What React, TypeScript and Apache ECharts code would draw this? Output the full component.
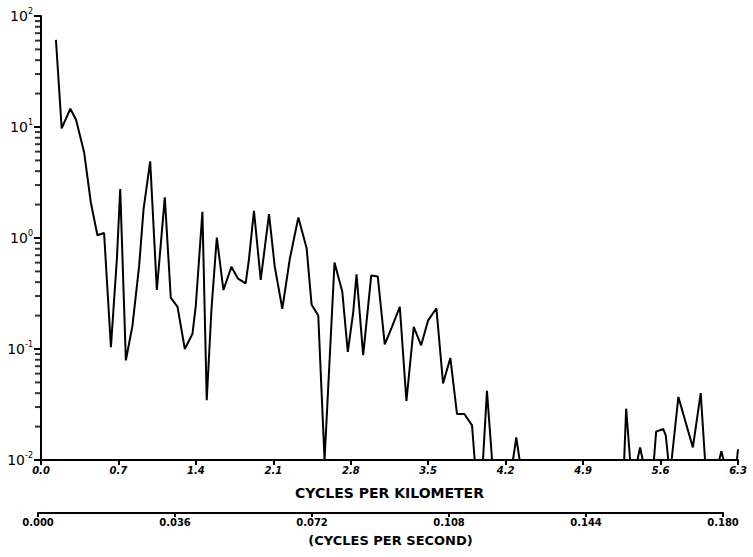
import React, { useEffect, useRef } from "react";
import * as echarts from "echarts";

// Spectrum samples: frequency (cycles per kilometer) and spectral power
const freqKm = [
  0.135, 0.187, 0.265, 0.316, 0.39, 0.45, 0.51, 0.57, 0.632, 0.686, 0.716, 0.767, 0.827, 0.887, 0.927,
  0.987, 1.047, 1.119, 1.173, 1.234, 1.3, 1.369, 1.399, 1.459, 1.498, 1.541, 1.589, 1.649, 1.721, 1.781,
  1.85, 1.88, 1.925, 1.986, 2.061, 2.112, 2.181, 2.249, 2.326, 2.401, 2.446, 2.506, 2.563, 2.653, 2.723,
  2.773, 2.822, 2.852, 2.912, 2.985, 3.044, 3.107, 3.174, 3.243, 3.303, 3.369, 3.436, 3.498, 3.574, 3.634,
  3.7, 3.76, 3.827, 3.896, 3.92, 3.995, 4.031, 4.077, 4.266, 4.296, 4.326, 5.271, 5.289, 5.325, 5.391,
  5.415, 5.439, 5.54, 5.56, 5.625, 5.647, 5.67, 5.7, 5.761, 5.892, 5.963, 6.002, 6.13, 6.15, 6.17, 6.29, 6.3,
];
const power = [
  61, 9.7, 14.6, 11.7, 5.9, 2.1, 1.06, 1.11, 0.104, 0.65, 2.76, 0.079, 0.163, 0.56, 1.82,
  4.9, 0.34, 2.32, 0.29, 0.24, 0.1, 0.137, 0.245, 1.72, 0.0345, 0.23, 1.01, 0.34, 0.55, 0.43,
  0.39, 0.65, 1.76, 0.42, 1.64, 0.56, 0.23, 0.65, 1.53, 0.81, 0.25, 0.2, 0.01, 0.6, 0.33,
  0.094, 0.214, 0.47, 0.088, 0.46, 0.45, 0.11, 0.16, 0.24, 0.034, 0.158, 0.108, 0.18, 0.233, 0.049,
  0.083, 0.026, 0.026, 0.0205, 0.01, 0.01, 0.042, 0.01, 0.01, 0.016, 0.01, 0.01, 0.029, 0.01, 0.01,
  0.013, 0.01, 0.01, 0.018, 0.019, 0.0167, 0.01, 0.01, 0.037, 0.013, 0.04, 0.01, 0.01, 0.012, 0.01, 0.01, 0.0125,
];

// Axis ranges and tick labels
const kmTicks = ["0.0", "0.7", "1.4", "2.1", "2.8", "3.5", "4.2", "4.9", "5.6", "6.3"];
const secTicks = ["0.000", "0.036", "0.072", "0.108", "0.144", "0.180"];
const decadeExps = [-2, -1, 0, 1];
const minorSteps = [2, 3, 4, 5, 6, 7, 8, 9];

const FONT = "DejaVu Sans";

export default function App() {
  const ref = useRef<HTMLDivElement>(null);

  useEffect(() => {
    if (!ref.current) return;
    const chart = echarts.init(ref.current, null, { renderer: "svg" });

    // minor tick positions of the log axis (2..9 within every decade)
    const minorTicks: number[][] = [];
    decadeExps.forEach((d) => minorSteps.forEach((k) => minorTicks.push([0, k * Math.pow(10, d)])));

    const kmMax = Number(kmTicks[kmTicks.length - 1]);
    const kmStep = Number(kmTicks[1]) - Number(kmTicks[0]);
    const secMax = Number(secTicks[secTicks.length - 1]);
    const secStep = Number(secTicks[1]) - Number(secTicks[0]);

    chart.setOption({
      animation: false,
      backgroundColor: "#fff",
      grid: [
        { left: 41, right: 15, top: 16, bottom: 97 },
        { left: 38, width: 685, top: 512, height: 1 },
      ],
      xAxis: [
        {
          type: "value",
          gridIndex: 0,
          min: 0,
          max: kmMax,
          interval: kmStep,
          splitLine: { show: false },
          axisLine: { show: true, lineStyle: { color: "#000", width: 2 } },
          axisTick: { show: true, inside: false, length: 5, lineStyle: { color: "#000", width: 2 } },
          axisLabel: {
            color: "#000",
            fontFamily: FONT,
            fontWeight: "bold",
            fontStyle: "italic",
            fontSize: 10,
            margin: 5,
            formatter: (v: number) => kmTicks[Math.round(v / kmStep)] ?? "",
          },
          name: "CYCLES PER KILOMETER",
          nameLocation: "middle",
          nameGap: 26,
          nameTextStyle: { color: "#000", fontFamily: FONT, fontWeight: "bold", fontSize: 14 },
        },
        {
          type: "value",
          gridIndex: 1,
          min: 0,
          max: secMax,
          interval: secStep,
          splitLine: { show: false },
          axisLine: { show: true, lineStyle: { color: "#000", width: 2 } },
          axisTick: { show: true, inside: false, length: 4, lineStyle: { color: "#000", width: 2 } },
          axisLabel: {
            color: "#000",
            fontFamily: FONT,
            fontWeight: "bold",
            fontSize: 10,
            margin: 4,
            formatter: (v: number) => secTicks[Math.round(v / secStep)] ?? "",
          },
          name: "(CYCLES PER SECOND)",
          nameLocation: "middle",
          nameGap: 21,
          nameTextStyle: {
            color: "#000",
            fontFamily: FONT,
            fontWeight: "bold",
            fontSize: 13,
            padding: [0, 0, 0, 20],
          },
        },
      ],
      yAxis: [
        {
          type: "log",
          gridIndex: 0,
          logBase: 10,
          min: 0.01,
          max: 100,
          splitLine: { show: false },
          axisLine: { show: true, lineStyle: { color: "#000", width: 2 } },
          axisTick: { show: true, inside: false, length: 7, lineStyle: { color: "#000", width: 2 } },
          axisLabel: {
            margin: 8,
            formatter: (v: number) => `{b|10}{s|${Math.round(Math.log10(v))}}`,
            rich: {
              b: { color: "#000", fontFamily: FONT, fontSize: 14 },
              s: { color: "#000", fontFamily: FONT, fontSize: 8, padding: [0, 0, 9, 0] },
            },
          },
        },
        { type: "value", gridIndex: 1, min: 0, max: 1, show: false },
      ],
      series: [
        {
          type: "line",
          xAxisIndex: 0,
          yAxisIndex: 0,
          data: freqKm.map((f, i) => [f, power[i]]),
          symbol: "none",
          lineStyle: { color: "#000", width: 2 },
        },
        {
          // minor ticks on the outer side of the log axis
          type: "scatter",
          xAxisIndex: 0,
          yAxisIndex: 0,
          data: minorTicks,
          symbol: "rect",
          symbolSize: [6, 2],
          symbolOffset: [-3, 0],
          itemStyle: { color: "#000" },
          clip: false,
          silent: true,
          z: 10,
        },
      ],
    });

    return () => chart.dispose();
  }, []);

  return (
    <div
      ref={ref}
      style={{ position: "fixed", left: 0, top: 0, width: 753, height: 557, background: "#fff" }}
    />
  );
}
